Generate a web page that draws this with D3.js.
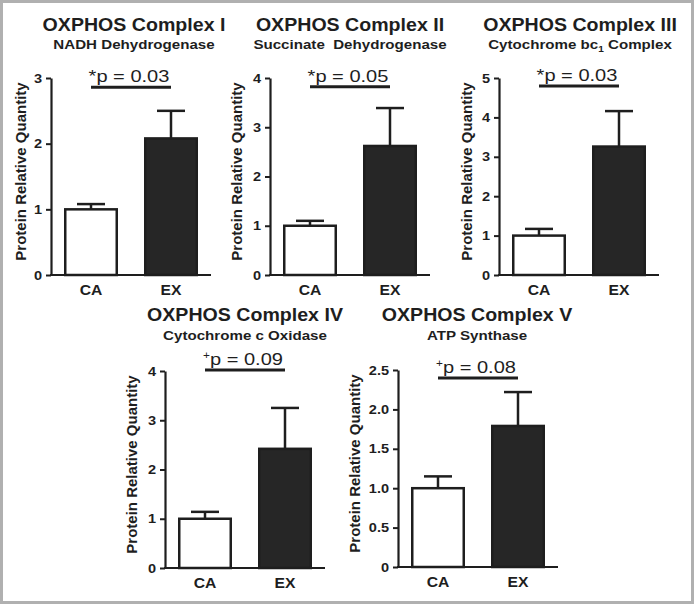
<!DOCTYPE html>
<html>
<head>
<meta charset="utf-8">
<script src="https://cdn.jsdelivr.net/npm/d3@7"></script>
<style>
  html, body { margin: 0; padding: 0; background: #fff; }
  svg { display: block; }
  text { font-family: "Liberation Sans", Arial, Helvetica, sans-serif; fill: #1e1e1e; }
</style>
</head>
<body>
<script>
// ---------- data ----------
const titles    = ["OXPHOS Complex I", "OXPHOS Complex II", "OXPHOS Complex III", "OXPHOS Complex IV", "OXPHOS Complex V"];
const subtitles = ["NADH Dehydrogenase", "Succinate\u00A0 Dehydrogenase", "Cytochrome bc|1| Complex", "Cytochrome c Oxidase", "ATP Synthase"];
const groups    = ["CA", "EX"];
const caMeans   = [1.00, 1.00, 1.00, 1.00, 1.00];
const caUpper   = [1.08, 1.10, 1.17, 1.14, 1.15];
const exMeans   = [2.08, 2.62, 3.26, 2.42, 1.79];
const exUpper   = [2.50, 3.39, 4.16, 3.25, 2.22];
const yMaxes    = [3, 4, 5, 4, 2.5];
const yTicks    = [[0,1,2,3],[0,1,2,3,4],[0,1,2,3,4,5],[0,1,2,3,4],[0,0.5,1,1.5,2,2.5]];
const tickLabels= [["0","1","2","3"],["0","1","2","3","4"],["0","1","2","3","4","5"],["0","1","2","3","4"],["0","0.5","1.0","1.5","2.0","2.5"]];
const sigMarks  = ["*", "*", "*", "+", "+"];
const pTexts    = ["p = 0.03", "p = 0.05", "p = 0.03", "p = 0.09", "p = 0.08"];
const bracketAt = [2.86, 3.82, 4.80, 4.02, 2.40];
const yLabel    = "Protein Relative Quantity";

// ---------- layout ----------
const W = 694, H = 604;
const layout = [
  {ax: 51,  top: 78,  bottom: 275, titleX: 134, titleY: 31,  subY: 49,  labOff: 25},
  {ax: 270, top: 78,  bottom: 275, titleX: 350, titleY: 31,  subY: 49,  labOff: 28},
  {ax: 499, top: 78,  bottom: 275, titleX: 580, titleY: 31,  subY: 49,  labOff: 27},
  {ax: 165, top: 371, bottom: 568, titleX: 245, titleY: 321, subY: 340, labOff: 28},
  {ax: 398, top: 370, bottom: 567, titleX: 477, titleY: 321, subY: 340, labOff: 38}
];
const axisLen = 160;
const SX = 1.12; // horizontal text stretch of the original figure
const ink = "#1e1e1e", barFill = "#262626";

const svg = d3.select("body").append("svg").attr("width", W).attr("height", H);
svg.append("rect").attr("x", 0).attr("y", 0).attr("width", W).attr("height", H).attr("fill", "#fff");
svg.append("rect").attr("x", 1.5).attr("y", 1.5).attr("width", W - 3).attr("height", H - 3)
  .attr("fill", "none").attr("stroke", "#b0b0b0").attr("stroke-width", 3);

function stext(g, x, y, size, weight, anchor, sx) {
  return g.append("text")
    .attr("transform", `translate(${x},${y}) scale(${sx},1)`)
    .attr("font-size", size).attr("font-weight", weight).attr("text-anchor", anchor);
}

titles.forEach((title, i) => {
  const L = layout[i];
  const g = svg.append("g");
  const x = d3.scaleBand().domain(groups).range([L.ax, L.ax + axisLen]).paddingInner(0.325).paddingOuter(0.1625);
  const y = d3.scaleLinear().domain([0, yMaxes[i]]).range([L.bottom, L.top]);

  // titles
  stext(g, L.titleX, L.titleY, 17.5, "bold", "middle", SX).text(title);
  const st = stext(g, L.titleX, L.subY, 13.5, "bold", "middle", SX);
  subtitles[i].split("|").forEach((part, k) => {
    if (k % 2 === 1) st.append("tspan").attr("font-size", 9).attr("dy", 3).text(part);
    else st.append("tspan").attr("dy", k === 0 ? 0 : -3).text(part);
  });

  // y axis
  const yAxis = d3.axisLeft(y).tickValues(yTicks[i]).tickSize(5).tickSizeOuter(0).tickPadding(3)
    .tickFormat((d, k) => tickLabels[i][k]);
  const ya = g.append("g").attr("transform", `translate(${L.ax},0)`).call(yAxis);
  ya.select(".domain").attr("stroke", ink).attr("stroke-width", 2.2);
  ya.selectAll(".tick line").attr("stroke", ink).attr("stroke-width", 2);
  ya.selectAll(".tick text").attr("font-size", 13).attr("font-weight", "bold")
    .attr("font-family", "Liberation Sans, Arial, sans-serif").attr("fill", ink)
    .attr("transform", `scale(${SX},1)`);

  // x axis
  const xAxis = d3.axisBottom(x).tickSize(0).tickSizeOuter(0).tickPadding(10);
  const xa = g.append("g").attr("transform", `translate(0,${L.bottom})`).call(xAxis);
  xa.select(".domain").attr("stroke", ink).attr("stroke-width", 2.2)
    .attr("d", `M${L.ax - 1},0H${L.ax + axisLen}`);
  xa.selectAll(".tick text").attr("font-size", 14).attr("font-weight", "bold")
    .attr("font-family", "Liberation Sans, Arial, sans-serif").attr("fill", ink)
    .attr("transform", `scale(${SX},1)`);

  // y label
  g.append("text")
    .attr("transform", `translate(${L.ax - L.labOff},${(L.top + L.bottom) / 2 - 5}) rotate(-90)`)
    .attr("font-size", 15).attr("font-weight", "bold").attr("text-anchor", "middle")
    .text(yLabel);

  // bars + error bars
  const rows = [
    {grp: "CA", mean: caMeans[i], up: caUpper[i], fill: "#fff"},
    {grp: "EX", mean: exMeans[i], up: exUpper[i], fill: barFill}
  ];
  rows.forEach(r => {
    const cx = x(r.grp) + x.bandwidth() / 2;
    g.append("line").attr("x1", cx).attr("x2", cx).attr("y1", y(r.mean)).attr("y2", y(r.up))
      .attr("stroke", ink).attr("stroke-width", 2.5);
    g.append("line").attr("x1", cx - 14).attr("x2", cx + 14).attr("y1", y(r.up)).attr("y2", y(r.up))
      .attr("stroke", ink).attr("stroke-width", 2.5);
    g.append("rect").attr("x", x(r.grp) + 1.25).attr("y", y(r.mean))
      .attr("width", x.bandwidth() - 2.5).attr("height", y(0) - y(r.mean))
      .attr("fill", r.fill).attr("stroke", ink).attr("stroke-width", 2.5);
  });

  // significance bracket
  const x1 = x("CA") + x.bandwidth() / 2, x2 = x("EX") + x.bandwidth() / 2;
  const by = y(bracketAt[i]);
  g.append("line").attr("x1", x1).attr("x2", x2).attr("y1", by).attr("y2", by)
    .attr("stroke", ink).attr("stroke-width", 3);
  const pt = stext(g, (x1 + x2) / 2 - 2, by - 5, 17, "normal", "middle", 1.18);
  if (sigMarks[i] === "+") {
    pt.append("tspan").attr("font-size", 10).attr("dy", -6).text("+");
    pt.append("tspan").attr("dy", 6).text(pTexts[i]);
  } else {
    pt.append("tspan").text(sigMarks[i] + pTexts[i]);
  }
});
</script>
</body>
</html>
